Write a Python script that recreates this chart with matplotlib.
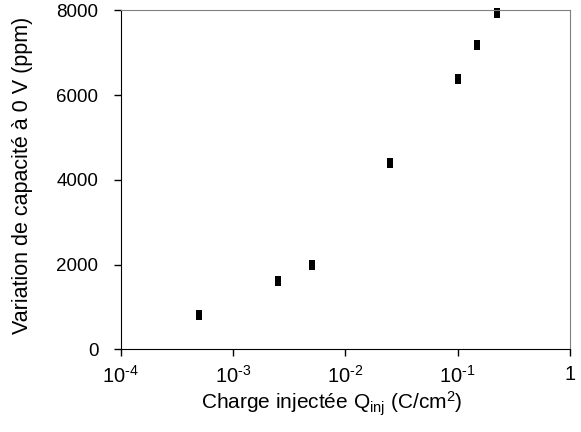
import matplotlib
matplotlib.use("Agg")
import matplotlib.pyplot as plt
from matplotlib.ticker import FixedLocator, FixedFormatter, NullLocator

plt.rcParams['font.family'] = ['Liberation Sans', 'DejaVu Sans']
plt.rcParams['mathtext.fontset'] = 'custom'
plt.rcParams['mathtext.rm'] = 'Liberation Sans'
plt.rcParams['mathtext.it'] = 'Liberation Sans:italic'

charge = [5e-4, 2.5e-3, 5e-3, 2.5e-2, 0.1, 0.15, 0.224]
variation = [800, 1620, 1980, 4390, 6390, 7170, 7930]

xticks = [1e-4, 1e-3, 1e-2, 1e-1, 1]
xticklabels = ['$\\mathregular{10^{\u20104}}$', '$\\mathregular{10^{\u20103}}$',
               '$\\mathregular{10^{\u20102}}$', '$\\mathregular{10^{\u20101}}$', '1']
yticks = [0, 2000, 4000, 6000, 8000]

fig = plt.figure(figsize=(5.81, 4.32), dpi=100)
ax = fig.add_axes([120.7/581, 1 - 349.3/432, (570 - 120.7)/581, (349.3 - 10.3)/432])

marker = [(-0.3, -0.5), (0.3, -0.5), (0.3, 0.5), (-0.3, 0.5), (-0.3, -0.5)]
ax.plot(charge, variation, linestyle='none', marker=marker, markersize=7.2,
        color='black', markeredgewidth=0, clip_on=False)

ax.set_xscale('log')
ax.set_xlim(1e-4, 1)
ax.set_ylim(0, 8000)
ax.xaxis.set_major_locator(FixedLocator(xticks))
ax.xaxis.set_major_formatter(FixedFormatter(xticklabels))
ax.xaxis.set_minor_locator(NullLocator())
ax.set_yticks(yticks)

for s in ['top', 'right']:
    ax.spines[s].set_color('#808080')
for s in ['left', 'bottom']:
    ax.spines[s].set_color('black')
ax.tick_params(axis='both', direction='out', length=5, width=1, colors='black')
ax.tick_params(axis='y', labelsize=13.5, pad=11)
ax.tick_params(axis='x', labelsize=14.5, pad=6)

ax.set_xlabel('Charge injectée Q$_{\\mathregular{inj}}$ (C/cm$^{\\mathregular{2}}$)', fontsize=15)
ax.set_ylabel('Variation de capacité à 0 V (ppm)', fontsize=15.5)
ax.xaxis.set_label_coords(0.470, -0.118)
ax.yaxis.set_label_coords(-0.196, 0.514)

fig.savefig('out.png', dpi=100)
